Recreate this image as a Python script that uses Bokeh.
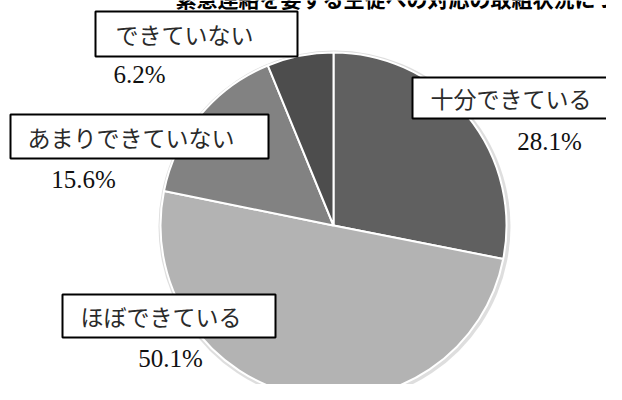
import numpy as np
from bokeh.plotting import figure
from bokeh.models import Range1d, ColumnDataSource
from bokeh.core.properties import value
from bokeh.embed import file_html
from bokeh.resources import INLINE

# ---- data ----
categories = ["十分できている", "ほぼできている", "あまりできていない", "できていない"]
percents = [28.1, 50.1, 15.6, 6.2]
pct_labels = ["28.1%", "50.1%", "15.6%", "6.2%"]
slice_colors = ["#606060", "#b3b3b3", "#828282", "#4d4d4d"]
title_text = "緊急連絡を要する生徒への対応の取組状況について"

# ---- layout (picture pixel coords, y downwards) ----
W, H = 606, 384
CX, CY, R = 333, 225, 173
# label boxes: (left, right, top, bottom), text start x, text centre y
BOXES = [(412, 640, 77, 118, 430, 97),
         (62, 275, 294, 337, 80, 315),
         (10, 268, 114, 158, 27, 136),
         (95, 297, 11, 56, 115, 33)]
PCT_POS = [(549, 141), (170, 358), (83, 179), (139, 74)]

def px(x):
    return x

def py(y):
    return H - y

p = figure(width=W, height=H, output_backend="svg", toolbar_location=None,
           x_range=Range1d(0, W), y_range=Range1d(0, H),
           min_border=0, outline_line_color=None)
p.axis.visible = False
p.grid.visible = False

vals = np.array(percents, dtype=float)
frac = vals / vals.sum()
ends = np.cumsum(frac)
starts = ends - frac
src = ColumnDataSource(dict(
    cat=categories,
    start=np.pi / 2 - starts * 2 * np.pi,
    end=np.pi / 2 - ends * 2 * np.pi,
    color=slice_colors,
))

# soft shadow
p.circle(x=[px(CX) + 1], y=[py(CY) - 1], radius=R + 3, fill_color="#d0d0d0",
         fill_alpha=0.7, line_color=None)
p.wedge(x=px(CX), y=py(CY), radius=R, start_angle="start", end_angle="end",
        direction="clock", fill_color="color", line_color="white",
        line_width=2, source=src)

font_jp = value("Noto Sans CJK JP")
for (l, r, t, b, tx, ty), cat in zip(BOXES, categories):
    p.quad(left=[px(l)], right=[px(r)], top=[py(t)], bottom=[py(b)],
           fill_color="white", line_color="black", line_width=2)
    p.text(x=[px(tx)], y=[py(ty)], text=[cat], text_font=font_jp,
           text_font_size="23px", text_color="#2a2a2a",
           text_align="left", text_baseline="middle")

for (x, y), lab in zip(PCT_POS, pct_labels):
    p.text(x=[px(x)], y=[py(y)], text=[lab], text_font=value("Liberation Serif"),
           text_font_size="25px", text_color="#111111",
           text_align="center", text_baseline="middle")

p.text(x=[px(175)], y=[py(12)], text=[title_text], text_font=font_jp,
       text_font_size="21px", text_font_style="bold", text_color="black",
       text_align="left", text_baseline="bottom")

open("out.html", "w").write(file_html(p, INLINE))
